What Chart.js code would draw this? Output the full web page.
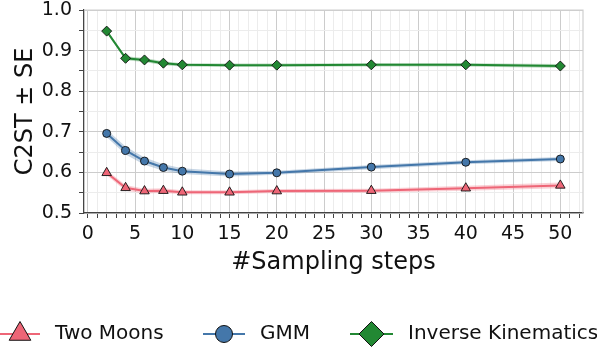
<!DOCTYPE html>
<html>
<head>
<meta charset="utf-8">
<script src="https://cdn.jsdelivr.net/npm/chart.js@4/dist/chart.umd.min.js"></script>
<style>
  html, body { margin: 0; padding: 0; background: #fff; }
  #wrap { width: 597px; height: 350px; }
</style>
</head>
<body>
<div id="wrap"><canvas id="chart" width="597" height="350"></canvas></div>
<script>
const steps = [2, 4, 6, 8, 10, 15, 20, 30, 40, 50];

const twoMoons = [0.599, 0.562, 0.554, 0.555, 0.551, 0.551, 0.554, 0.555, 0.561, 0.568];
const twoMoonsSE = [0.006, 0.007, 0.006, 0.006, 0.005, 0.005, 0.005, 0.005, 0.006, 0.007];

const gmm = [0.696, 0.654, 0.628, 0.612, 0.603, 0.596, 0.599, 0.613, 0.625, 0.633];
const gmmSE = [0.009, 0.010, 0.009, 0.008, 0.007, 0.006, 0.005, 0.005, 0.005, 0.005];

const invKin = [0.948, 0.881, 0.877, 0.869, 0.865, 0.864, 0.864, 0.865, 0.865, 0.862];
const invKinSE = [0.004, 0.005, 0.005, 0.005, 0.004, 0.004, 0.004, 0.004, 0.004, 0.005];

const seriesLabels = ['Two Moons', 'GMM', 'Inverse Kinematics'];
const FONT = "'DejaVu Sans', sans-serif";

const series = [
    { label: seriesLabels[0], values: twoMoons, se: twoMoonsSE, color: '#EE6677', band: 'rgba(238,102,119,0.3)', style: 'triangle', r: 5.5, lr: 12.5 },
    { label: seriesLabels[1], values: gmm, se: gmmSE, color: '#4477AA', band: 'rgba(68,119,170,0.3)', style: 'circle', r: 4, lr: 8.5 },
    { label: seriesLabels[2], values: invKin, se: invKinSE, color: '#228833', band: 'rgba(34,136,51,0.3)', style: 'rectRot', r: 5, lr: 12.5 }
];

const toXY = vals => steps.map((s, i) => ({ x: s, y: vals[i] }));

const datasets = [];
series.forEach(s => {
    datasets.push({
        label: s.label,
        data: toXY(s.values),
        borderColor: s.color,
        backgroundColor: s.color,
        borderWidth: 2,
        pointStyle: s.style,
        pointRadius: s.r,
        pointBackgroundColor: s.color,
        pointBorderColor: '#111',
        pointBorderWidth: 0.9,
        tension: 0,
        fill: false,
        order: 0
    });
});
series.forEach(s => {
    datasets.push({
        label: s.label + ' upper',
        data: toXY(s.values.map((v, i) => v + s.se[i])),
        borderWidth: 0,
        pointRadius: 0,
        backgroundColor: s.band,
        fill: '+1',
        order: 10
    });
    datasets.push({
        label: s.label + ' lower',
        data: toXY(s.values.map((v, i) => v - s.se[i])),
        borderWidth: 0,
        pointRadius: 0,
        fill: false,
        order: 10
    });
});

// top and right spines in light grey, like the reference frame
const framePlugin = {
    id: 'frame',
    afterDatasetsDraw(chart) {
        const { ctx, chartArea: a } = chart;
        ctx.save();
        ctx.strokeStyle = '#cfcfcf';
        ctx.lineWidth = 1.2;
        ctx.beginPath();
        ctx.moveTo(a.left, a.top);
        ctx.lineTo(a.right, a.top);
        ctx.lineTo(a.right, a.bottom);
        ctx.stroke();
        ctx.restore();
    }
};

// matplotlib-style legend: line segment with marker, below the plot
const legendPlugin = {
    id: 'bottomLegend',
    afterDraw(chart) {
        const ctx = chart.ctx;
        const y = 334;
        const items = [
            { x0: 0, x1: 40, tx: 55 },
            { x0: 203, x1: 245, tx: 260 },
            { x0: 350, x1: 393, tx: 408 }
        ];
        ctx.save();
        series.forEach((s, i) => {
            const it = items[i];
            const cx = (it.x0 + it.x1) / 2;
            ctx.strokeStyle = s.color;
            ctx.lineWidth = 2;
            ctx.beginPath();
            ctx.moveTo(it.x0, y);
            ctx.lineTo(it.x1, y);
            ctx.stroke();
            ctx.fillStyle = s.color;
            ctx.strokeStyle = '#111';
            ctx.lineWidth = 1;
            Chart.helpers.drawPoint(ctx, { pointStyle: s.style, radius: s.lr, rotation: 0, borderWidth: 1 }, cx, y);
            ctx.fillStyle = '#111';
            ctx.font = '20px ' + FONT;
            ctx.textBaseline = 'middle';
            ctx.textAlign = 'left';
            ctx.fillText(s.label, it.tx, y);
        });
        ctx.restore();
    }
};

const majorGrid = '#cccccc';
const minorGrid = '#ececec';

new Chart(document.getElementById('chart'), {
    type: 'line',
    data: { datasets },
    options: {
        responsive: false,
        animation: false,
        devicePixelRatio: 1,
        layout: { padding: { top: 10, right: 14, bottom: 73, left: 0 } },
        plugins: {
            legend: { display: false },
            tooltip: { enabled: false }
        },
        scales: {
            x: {
                type: 'linear',
                min: -0.4,
                max: 52.4,
                afterFit: s => { s.height = 64; },
                border: { display: true, color: '#444', width: 1.3 },
                grid: {
                    color: c => (c.tick && c.tick.value % 5 === 0) ? majorGrid : minorGrid,
                    lineWidth: 1,
                    tickLength: 5,
                    tickColor: '#444'
                },
                ticks: {
                    stepSize: 1,
                    includeBounds: false,
                    autoSkip: false,
                    maxRotation: 0,
                    padding: 5,
                    color: '#111',
                    font: { family: FONT, size: 19 },
                    callback: v => (v % 5 === 0 ? String(v) : '')
                },
                title: {
                    display: true,
                    text: '#Sampling steps',
                    color: '#111',
                    font: { family: FONT, size: 24 },
                    padding: { top: 0, bottom: 0 }
                }
            },
            y: {
                type: 'linear',
                min: 0.5,
                max: 1.0,
                afterFit: s => { s.width = 84; s.paddingTop = 0; s.paddingBottom = 0; },
                border: { display: true, color: '#444', width: 1.3 },
                grid: {
                    color: c => (c.tick && Math.round(c.tick.value * 100) % 10 === 0) ? majorGrid : minorGrid,
                    lineWidth: 1,
                    tickLength: 5,
                    tickColor: '#444'
                },
                ticks: {
                    stepSize: 0.05,
                    includeBounds: false,
                    autoSkip: false,
                    padding: 7,
                    color: '#111',
                    font: { family: FONT, size: 19 },
                    callback: v => (Math.round(v * 100) % 10 === 0 ? v.toFixed(1) : '')
                },
                title: {
                    display: true,
                    text: 'C2ST ± SE',
                    color: '#111',
                    font: { family: FONT, size: 24 },
                    padding: { top: 11, bottom: 0 }
                }
            }
        }
    },
    plugins: [framePlugin, legendPlugin]
});
</script>
</body>
</html>
